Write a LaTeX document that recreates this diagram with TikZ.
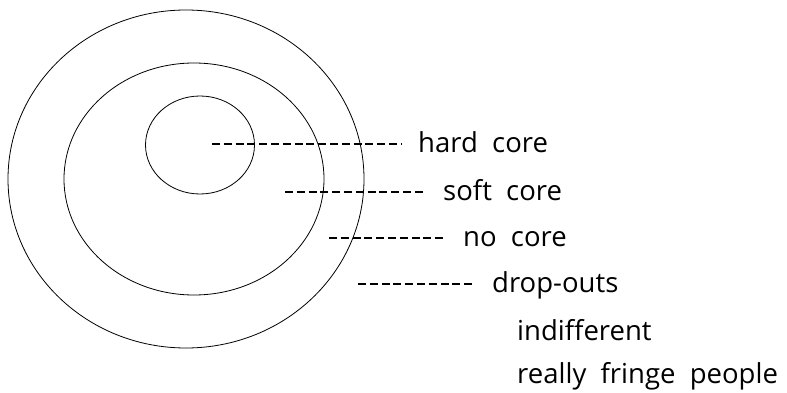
\documentclass[tikz,border=0pt]{standalone}
\usepackage{fontspec}
\setmainfont{Open Sans}
\begin{document}
\begin{tikzpicture}[x=1pt,y=-1pt,
  ring/.style={draw=black,line width=0.8pt},
  lbl/.style={anchor=base west,inner sep=0pt,font=\fontsize{27.5}{32}\selectfont},
  leader/.style={draw=black,line width=1.4pt,dash pattern=on 8pt off 3.8pt}]
\useasboundingbox (0,0) rectangle (787,393);
\draw[ring] (186,179) ellipse [x radius=178pt,y radius=169pt];
\draw[ring] (194,179) ellipse [x radius=130pt,y radius=116pt];
\draw[ring] (200,145) ellipse [x radius=54.5pt,y radius=49pt];
\node[lbl] (hard) at (418,153) {hard\ \ core};
\node[lbl] (soft) at (443,200) {soft\ \ core};
\node[lbl] (no) at (463,246) {no\ \ core};
\node[lbl] (drop) at (492,292) {drop-outs};
\node[lbl] (indiff) at (517,340) {indifferent};
\node[lbl] (fringe) at (517,383) {really\ \ fringe\ \ people};
\coordinate (s1) at (212,144); \coordinate (e1) at (401,144);
\coordinate (s2) at (285,192); \coordinate (e2) at (424,192);
\coordinate (s3) at (329,238); \coordinate (e3) at (446,238);
\coordinate (s4) at (358,284); \coordinate (e4) at (474,284);
\draw[leader] (s1) -- (e1);
\draw[leader] (s2) -- (e2);
\draw[leader] (s3) -- (e3);
\draw[leader] (s4) -- (e4);
\end{tikzpicture}
\end{document}
